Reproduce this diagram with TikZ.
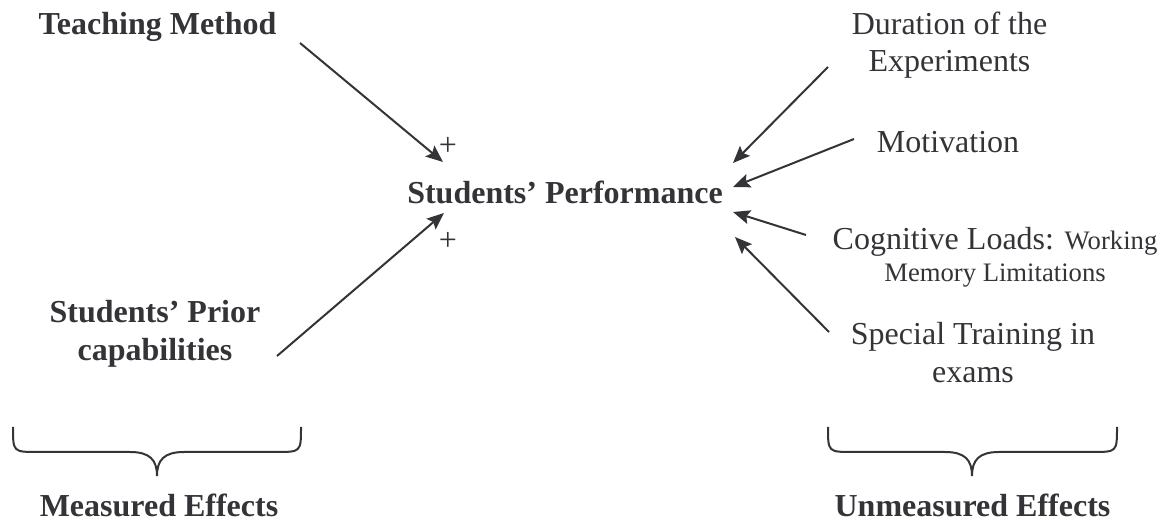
\documentclass[tikz,border=0pt]{standalone}
\usepackage{fontspec}
\setmainfont{Liberation Serif}
\usetikzlibrary{arrows.meta}
\definecolor{ink}{RGB}{52,52,56}
\newcommand\mytwo[3]{\vtop{\baselineskip=#1\lineskiplimit=-10pt\halign{\hfil##\hfil\cr #2\cr #3\cr}}}
\begin{document}
\begin{tikzpicture}[x=0.5pt,y=-0.5pt,
  lbl/.style={inner sep=0pt,anchor=base,text=ink,font=\fontsize{16pt}{19pt}\selectfont},
  blbl/.style={lbl,font=\fontsize{16pt}{19pt}\selectfont\bfseries},
  arr/.style={draw=ink,line width=1pt,-{Stealth[length=8.5pt,width=7pt,inset=1.5pt]}},
  brace/.style={draw=ink,line width=1pt}]
\useasboundingbox (0,0) rectangle (1171,522);
% labels
\node[blbl] (tm) at (157.5,35) {Teaching Method};
\node[blbl] (sp) at (155,323) {\mytwo{19pt}{Students’ Prior}{capabilities}};
\node[blbl] (perf) at (565,204) {Students’ Performance};
\node[lbl] (pl1) at (448,156) {+};
\node[lbl] (pl2) at (448,251) {+};
\node[lbl] (dur) at (949.5,35) {\mytwo{18.5pt}{Duration of the}{Experiments}};
\node[lbl] (mot) at (948,153) {Motivation};
\node[lbl] (cog) at (995,250) {\mytwo{16pt}{Cognitive Loads: {\fontsize{13.33pt}{16pt}\selectfont Working}}{\fontsize{13.33pt}{16pt}\selectfont Memory Limitations}};
\node[lbl] (spt) at (973,345) {\mytwo{19pt}{Special Training in}{exams}};
\node[blbl] (me) at (159,517) {Measured Effects};
\node[blbl] (ue) at (972.5,517) {Unmeasured Effects};
% arrow end points
\coordinate (a1s) at (300,43);  \coordinate (a1e) at (443,162);
\coordinate (a2s) at (277,356); \coordinate (a2e) at (444,213);
\coordinate (b1s) at (828,67);  \coordinate (b1e) at (733,163);
\coordinate (b2s) at (854,139); \coordinate (b2e) at (733,187);
\coordinate (b3s) at (806,235); \coordinate (b3e) at (733,212);
\coordinate (b4s) at (829,332); \coordinate (b4e) at (735,237);
\draw[arr] (a1s) -- (a1e);
\draw[arr] (a2s) -- (a2e);
\draw[arr] (b1s) -- (b1e);
\draw[arr] (b2s) -- (b2e);
\draw[arr] (b3s) -- (b3e);
\draw[arr] (b4s) -- (b4e);
% braces
\coordinate (lb1) at (13,427); \coordinate (lbt) at (157,476); \coordinate (lb2) at (301,427);
\draw[brace] (lb1) .. controls (13,452) and (13,452) .. (38,452) -- (130,452)
  .. controls (150,452) and (157,460) .. (lbt)
  .. controls (157,460) and (164,452) .. (184,452) -- (276,452)
  .. controls (301,452) and (301,452) .. (lb2);
\coordinate (rb1) at (828,427); \coordinate (rbt) at (972,476); \coordinate (rb2) at (1117,427);
\draw[brace] (rb1) .. controls (828,452) and (828,452) .. (853,452) -- (945,452)
  .. controls (965,452) and (972,460) .. (rbt)
  .. controls (972,460) and (979,452) .. (999,452) -- (1092,452)
  .. controls (1117,452) and (1117,452) .. (rb2);
\end{tikzpicture}
\end{document}
